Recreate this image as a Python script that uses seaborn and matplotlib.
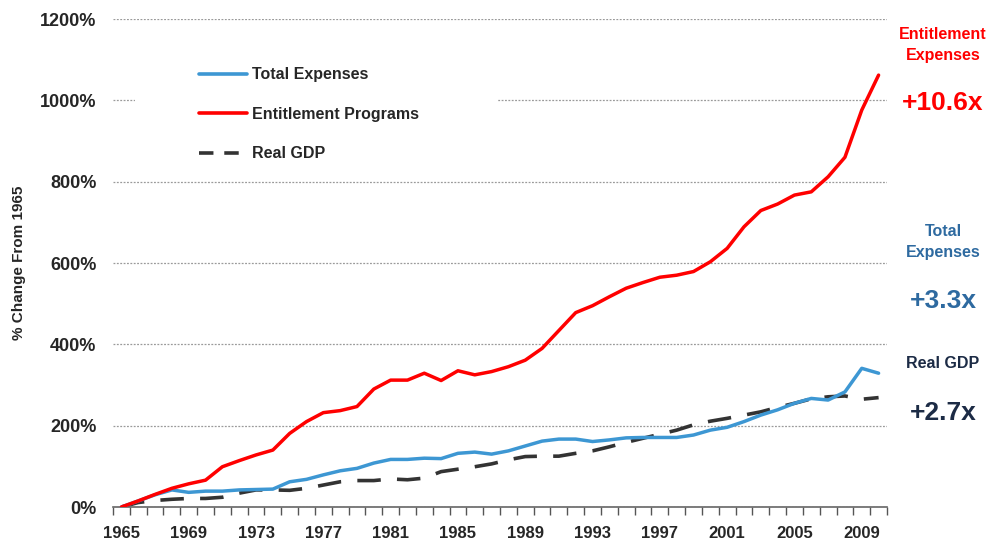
import numpy as np
import pandas as pd
import matplotlib
matplotlib.use("Agg")
import matplotlib.pyplot as plt
from matplotlib.lines import Line2D
from matplotlib.patches import Rectangle
import seaborn as sns

# data (% change from 1965)
years = np.arange(1965, 2011)
total_expenses = [0, 15, 30, 42, 36, 39, 39, 42, 43, 44,
                  62, 68, 79, 89, 95, 108, 117, 117, 120, 119,
                  132, 135, 130, 138, 150, 162, 167, 167, 161, 165,
                  170, 171, 171, 171, 177, 189, 196, 210, 226, 239,
                  255, 267, 263, 283, 341, 329]
entitlements = [0, 15, 31, 46, 57, 66, 99, 114, 128, 140,
                181, 210, 232, 237, 247, 290, 312, 312, 329, 311,
                335, 325, 333, 345, 361, 390, 434, 478, 495, 517,
                538, 552, 565, 570, 579, 603, 636, 689, 729, 745,
                767, 775, 812, 860, 976, 1062]
real_gdp = [0, 11, 16, 19, 21, 21, 24, 34, 42, 42,
            41, 46, 54, 62, 65, 65, 69, 67, 71, 87,
            93, 99, 106, 116, 124, 125, 125, 132, 138, 148,
            159, 169, 179, 189, 202, 211, 218, 226, 234, 245,
            255, 266, 271, 273, 265, 269]
year_labels = [1965, 1969, 1973, 1977, 1981, 1985, 1989, 1993, 1997, 2001, 2005, 2009]
y_ticks = [0, 200, 400, 600, 800, 1000, 1200]

df = pd.DataFrame({"Year": years, "Total Expenses": total_expenses,
                   "Entitlement Programs": entitlements, "Real GDP": real_gdp})

sns.set_theme(style="white")
plt.rcParams["font.family"] = ["Liberation Sans", "DejaVu Sans"]
plt.rcParams["font.weight"] = "bold"

BLUE = "#3d97d3"
RED = "#ff0000"
GDP = "#333333"

fig = plt.figure(figsize=(9.98, 5.47), dpi=100)
ax = fig.add_axes([113 / 998, 40 / 547, 774 / 998, 488 / 547])

sns.lineplot(data=df, x="Year", y="Real GDP", ax=ax, color=GDP, lw=2.6,
             dashes=False, zorder=2)
ax.lines[-1].set_dashes((6.5, 4.5))
sns.lineplot(data=df, x="Year", y="Total Expenses", ax=ax, color=BLUE, lw=2.5, zorder=3)
sns.lineplot(data=df, x="Year", y="Entitlement Programs", ax=ax, color=RED, lw=2.5, zorder=4)

ax.set_xlim(1964.5, 2010.5)
ax.set_ylim(0, 1200)
ax.set_yticks(y_ticks)
ax.set_yticklabels([f"{v}%" for v in y_ticks], fontsize=13, fontweight="bold")
ax.set_xticks(year_labels)
ax.set_xticklabels([str(y) for y in year_labels], fontsize=12, fontweight="bold")
ax.set_xticks(np.arange(1964.5, 2011, 1), minor=True)
ax.tick_params(axis="x", which="major", length=0, pad=14)
ax.tick_params(axis="x", which="minor", length=6, width=1, color="#555555", direction="out", bottom=True)
ax.tick_params(axis="y", length=0, pad=12)
ax.set_xlabel("")
ax.set_ylabel("% Change From 1965", fontsize=11, fontweight="bold", labelpad=10)

for s in ["top", "right", "left"]:
    ax.spines[s].set_visible(False)
ax.spines["bottom"].set_color("#666666")
ax.spines["bottom"].set_linewidth(1.2)

ax.set_axisbelow(True)
ax.yaxis.grid(True, linestyle=(0, (1.5, 1.2)), color="#9a9a9a", lw=0.9)

# white box behind the legend (hides the gridline like the original)
ax.add_patch(Rectangle((22 / 774, 1 - 150 / 488), 362 / 774, 125 / 488,
                       transform=ax.transAxes, facecolor="white", edgecolor="none", zorder=1))

handles = [Line2D([], [], color=BLUE, lw=2.6),
           Line2D([], [], color=RED, lw=2.6),
           Line2D([], [], color=GDP, lw=2.6, dashes=(4, 3))]
leg = ax.legend(handles, ["Total Expenses", "Entitlement Programs", "Real GDP"],
                loc="upper left", bbox_to_anchor=(80 / 774, 1 - 42 / 488),
                frameon=False, fontsize=11.5, handlelength=3.0, handletextpad=0.3,
                labelspacing=1.53, borderaxespad=0)
for t in leg.get_texts():
    t.set_fontweight("bold")

# right-hand annotations
def note(x, y, s, color, size):
    fig.text(x / 998, 1 - y / 547, s, color=color, fontsize=size, fontweight="bold",
             ha="center", va="center", linespacing=1.5)

note(943, 45, "Entitlement\nExpenses", RED, 11.5)
note(943, 103, "+10.6x", RED, 19)
note(943, 242, "Total\nExpenses", "#2e6aa0", 11.5)
note(943, 301, "+3.3x", "#2e6aa0", 19)
note(943, 364, "Real GDP", "#1c2b45", 11.5)
note(943, 413, "+2.7x", "#1c2b45", 19)

fig.savefig("out.png", dpi=100)
